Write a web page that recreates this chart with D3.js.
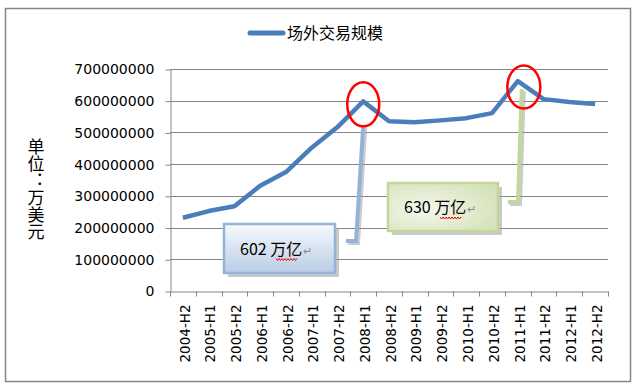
<!DOCTYPE html>
<html>
<head>
<meta charset="utf-8">
<script src="https://cdn.jsdelivr.net/npm/d3@7"></script>
<style>
  body { margin: 0; background: #fff; }
  svg { display: block; }
</style>
</head>
<body>
<svg id="chart" width="632" height="387"></svg>
<script>
// data
const categories = ['2004-H2', '2005-H1', '2005-H2', '2006-H1', '2006-H2', '2007-H1', '2007-H2', '2008-H1', '2008-H2',
  '2009-H1', '2009-H2', '2010-H1', '2010-H2', '2011-H1', '2011-H2', '2012-H1', '2012-H2'];
const otcValues = [231000000, 252000000, 267000000, 332000000, 375000000, 452000000, 517000000, 598000000, 535000000,
  532000000, 538000000, 545000000, 561000000, 662000000, 605000000, 596000000, 590000000];
const yTicks = [0, 100000000, 200000000, 300000000, 400000000, 500000000, 600000000, 700000000];
const seriesName = '场外交易规模';
const yTitle = '单位：万美元';
const notes = [
  { cat: '2008-H1', text: '602 万亿', box: 'blue' },
  { cat: '2011-H1', text: '630 万亿', box: 'green' }
];

const svg = d3.select('#chart');
const gray = '#868686';
const blue = '#4a7ebb';

const margin = { left: 170, right: 24, top: 69, bottom: 96 };
const W = 632, H = 387;

const x = d3.scaleBand().domain(categories).range([margin.left, W - margin.right]);
const y = d3.scaleLinear().domain([0, 700000000]).range([H - margin.bottom, margin.top]);

// gradients
const defs = svg.append('defs');
const gb = defs.append('linearGradient').attr('id', 'gBlue').attr('x1', 0).attr('y1', 0).attr('x2', 0).attr('y2', 1);
gb.append('stop').attr('offset', '0%').attr('stop-color', '#f7f9fd');
gb.append('stop').attr('offset', '100%').attr('stop-color', '#b9cde5');
const gg = defs.append('radialGradient').attr('id', 'gGreen').attr('cx', '35%').attr('cy', '55%').attr('r', '75%');
gg.append('stop').attr('offset', '0%').attr('stop-color', '#f4f7ec');
gg.append('stop').attr('offset', '100%').attr('stop-color', '#d3e1b6');

// outer frame
svg.append('rect')
  .attr('x', 5.5).attr('y', 8.5).attr('width', 625).attr('height', 373)
  .attr('fill', '#fff').attr('stroke', gray).attr('stroke-width', 1.5);

// grid lines
svg.append('g').selectAll('line').data(yTicks.slice(1)).enter().append('line')
  .attr('x1', margin.left).attr('x2', W - margin.right)
  .attr('y1', d => Math.round(y(d)) + 0.5).attr('y2', d => Math.round(y(d)) + 0.5)
  .attr('stroke', gray).attr('stroke-width', 1);

// y axis
const yAxisG = svg.append('g')
  .attr('transform', `translate(${margin.left + 0.5},0.5)`)
  .call(d3.axisLeft(y).tickValues(yTicks).tickSize(5).tickSizeOuter(0).tickPadding(11).tickFormat(d3.format('d')));
yAxisG.selectAll('.domain, .tick line').attr('stroke', gray);
yAxisG.selectAll('text').attr('font-family', 'DejaVu Sans').attr('font-size', 14).attr('fill', '#000');

// x axis
const xAxisG = svg.append('g')
  .attr('transform', `translate(0,${Math.round(y(0)) + 0.5})`)
  .call(d3.axisBottom(x).tickSize(0).tickSizeOuter(0));
xAxisG.select('.domain').attr('stroke', gray);
xAxisG.selectAll('.tick text')
  .attr('font-family', 'DejaVu Sans').attr('font-size', 13.5).attr('fill', '#000')
  .attr('text-anchor', 'end')
  .attr('transform', 'translate(2,13) rotate(-90)')
  .attr('dy', '0.35em').attr('y', 0);

// category tick marks between categories
const bounds = categories.map(c => x(c)).concat([x.range()[1]]);
xAxisG.append('g').selectAll('line').data(bounds).enter().append('line')
  .attr('x1', d => Math.round(d) + 0.5).attr('x2', d => Math.round(d) + 0.5)
  .attr('y1', 0).attr('y2', 5).attr('stroke', gray);

// y title, vertical text
svg.append('text')
  .attr('x', 36).attr('y', 138)
  .style('writing-mode', 'vertical-rl')
  .style('letter-spacing', '0px')
  .attr('font-family', 'Noto Sans CJK SC').attr('font-size', 17).attr('fill', '#000')
  .text(yTitle);

// legend
svg.append('line').attr('x1', 250).attr('x2', 283).attr('y1', 33).attr('y2', 33)
  .attr('stroke', blue).attr('stroke-width', 5).attr('stroke-linecap', 'round');
svg.append('text').attr('x', 287).attr('y', 39)
  .attr('font-family', 'Noto Sans CJK SC').attr('font-size', 16).attr('fill', '#000').text(seriesName);

// the series line
const cx = c => x(c) + x.bandwidth() / 2;
const line = d3.line().x((d, i) => cx(categories[i])).y(d => y(d));
svg.append('path').datum(otcValues)
  .attr('d', line).attr('fill', 'none')
  .attr('stroke', blue).attr('stroke-width', 4.5).attr('stroke-linejoin', 'round');

// annotation boxes, leader lines and circles
const peakX = c => cx(c);
const peakY = c => y(otcValues[categories.indexOf(c)]);

function box(x0, y0, w, h, fill, stroke, label) {
  svg.append('rect').attr('x', x0 + 4).attr('y', y0 + 4).attr('width', w).attr('height', h)
    .attr('fill', '#a6a6a6').attr('opacity', 0.6);
  svg.append('rect').attr('x', x0).attr('y', y0).attr('width', w).attr('height', h)
    .attr('fill', fill).attr('stroke', stroke).attr('stroke-width', 2.5);
  const tx = x0 + 16, ty = y0 + h / 2 + 6;
  const t = svg.append('text').attr('x', tx).attr('y', ty)
    .attr('font-family', 'Noto Sans CJK SC').attr('font-size', 16).attr('fill', '#000');
  t.append('tspan').text(label);
  t.append('tspan').attr('fill', '#8c8c8c').attr('font-size', 11).attr('dx', 1).text('↵');
  // wavy underline under 万亿
  let d = `M${tx + 36},${ty + 4}`;
  for (let i = 0; i < 14; i++) d += ` l1.5,${i % 2 ? -2 : 2}`;
  svg.append('path').attr('d', d).attr('fill', 'none').attr('stroke', '#e00').attr('stroke-width', 1);
}

function leader(px, py, sx, sy, color) {
  const pts = [[sx - 10, sy], [sx, sy], [px, py]];
  svg.append('path').attr('d', d3.line()(pts.map(p => [p[0] + 2, p[1] + 2])))
    .attr('fill', 'none').attr('stroke', '#9a9a9a').attr('stroke-width', 4).attr('opacity', 0.5);
  svg.append('path').attr('d', d3.line()(pts))
    .attr('fill', 'none').attr('stroke', color).attr('stroke-width', 4);
}

// 2008 peak
const n1 = notes[0];
leader(peakX(n1.cat), peakY(n1.cat) + 24, 356, 241, '#95b3d7');
box(224, 224, 111, 49, 'url(#gBlue)', '#95b3d7', n1.text);
svg.append('ellipse').attr('cx', peakX(n1.cat)).attr('cy', peakY(n1.cat) + 3).attr('rx', 16).attr('ry', 22)
  .attr('fill', 'none').attr('stroke', '#ff0000').attr('stroke-width', 2.5);

// 2011 peak
const n2 = notes[1];
leader(peakX(n2.cat) + 4, peakY(n2.cat) + 8, 518, 202, '#c3d69b');
box(388, 183, 110, 48, 'url(#gGreen)', '#c3d69b', n2.text);
svg.append('ellipse').attr('cx', peakX(n2.cat) + 6).attr('cy', peakY(n2.cat) + 6).attr('rx', 16.5).attr('ry', 21.5)
  .attr('fill', 'none').attr('stroke', '#ff0000').attr('stroke-width', 2.5);
</script>
</body>
</html>
